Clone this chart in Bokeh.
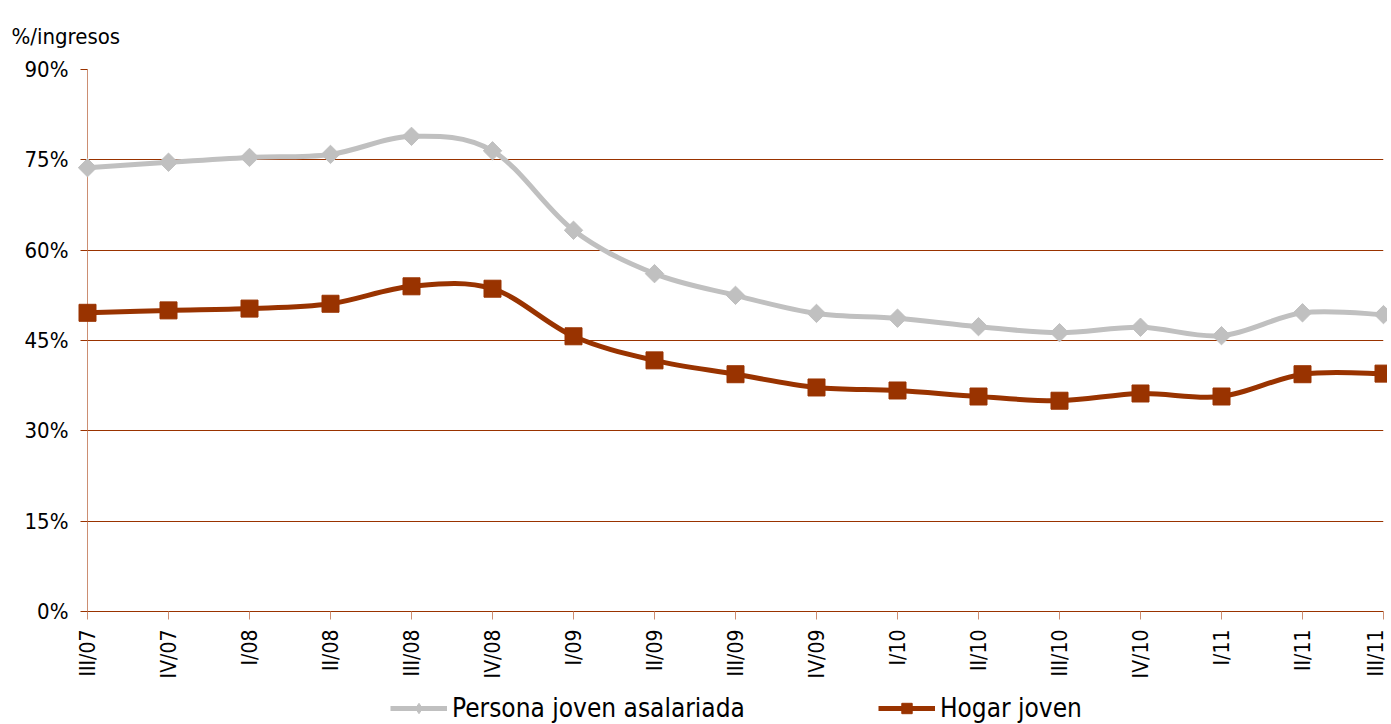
import numpy as np
from bokeh.plotting import figure
from bokeh.layouts import column
from bokeh.models import (Range1d, FixedTicker, Legend, LegendItem, ColumnDataSource)
from bokeh.embed import file_html
from bokeh.resources import INLINE

categories = ["III/07", "IV/07", "I/08", "II/08", "III/08", "IV/08", "I/09", "II/09",
              "III/09", "IV/09", "I/10", "II/10", "III/10", "IV/10", "I/11", "II/11", "III/11"]
persona = [73.7, 74.6, 75.4, 75.9, 78.9, 76.5, 63.3, 56.1, 52.5, 49.5, 48.7, 47.3, 46.3, 47.2, 45.8, 49.6, 49.3]
hogar = [49.6, 50.0, 50.3, 51.1, 54.0, 53.6, 45.7, 41.7, 39.4, 37.2, 36.7, 35.7, 35.0, 36.2, 35.7, 39.4, 39.5]
y_ticks = [0, 15, 30, 45, 60, 75, 90]
y_tick_labels = ["0%", "15%", "30%", "45%", "60%", "75%", "90%"]
series_names = ["Persona joven asalariada", "Hogar joven"]

FONT = "DejaVu Sans Condensed, Liberation Sans, sans-serif"
GRAY = "#C0C0C0"
BROWN = "#993300"
LIGHT = "#CC8E72"

xs = np.arange(len(categories), dtype=float)

def bezier_source(xv, yv):
    xv = np.asarray(xv, float); yv = np.asarray(yv, float)
    n = len(xv)
    d = dict(x0=[], y0=[], x1=[], y1=[], cx0=[], cy0=[], cx1=[], cy1=[])
    for i in range(n - 1):
        p0 = max(i - 1, 0); p3 = min(i + 2, n - 1)
        d["x0"].append(xv[i]); d["y0"].append(yv[i])
        d["x1"].append(xv[i + 1]); d["y1"].append(yv[i + 1])
        d["cx0"].append(xv[i] + (xv[i + 1] - xv[p0]) / 6)
        d["cy0"].append(yv[i] + (yv[i + 1] - yv[p0]) / 6)
        d["cx1"].append(xv[i + 1] - (xv[p3] - xv[i]) / 6)
        d["cy1"].append(yv[i + 1] - (yv[p3] - yv[i]) / 6)
    return ColumnDataSource(d)

p = figure(frame_width=1296, frame_height=542, output_backend="svg", toolbar_location=None,
           x_range=Range1d(0, len(categories) - 1), y_range=Range1d(0, 90),
           min_border_left=87, min_border_right=4, min_border_top=69, min_border_bottom=0)

p.title.text = "%/ingresos"
p.title.text_font = FONT
p.title.text_font_size = "22px"
p.title.text_font_style = "normal"
p.title.text_color = "black"
p.title.align = "left"
p.title.offset = -76
p.title.standoff = 41

p.background_fill_color = "white"
p.border_fill_color = "white"
p.outline_line_color = None

p.xgrid.grid_line_color = None
p.ygrid.ticker = FixedTicker(ticks=y_ticks)
p.ygrid.grid_line_color = BROWN
p.ygrid.grid_line_width = 1

p.yaxis.ticker = FixedTicker(ticks=y_ticks)
p.yaxis.major_label_overrides = {t: l for t, l in zip(y_ticks, y_tick_labels)}
p.yaxis.axis_line_color = LIGHT
p.yaxis.major_tick_line_color = BROWN
p.yaxis.major_tick_out = 7
p.yaxis.major_tick_in = 0
p.yaxis.minor_tick_line_color = None
p.yaxis.major_label_text_font = FONT
p.yaxis.major_label_text_font_size = "22px"
p.yaxis.major_label_text_color = "black"
p.yaxis.major_label_standoff = 12

p.xaxis.ticker = FixedTicker(ticks=list(xs))
ov = {float(i): c for i, c in enumerate(categories)}
ov.update({i: c for i, c in enumerate(categories)})
p.xaxis.major_label_overrides = ov
p.xaxis.major_label_orientation = np.pi / 2
p.xaxis.axis_line_color = BROWN
p.xaxis.major_tick_line_color = LIGHT
p.xaxis.major_tick_out = 8
p.xaxis.major_tick_in = 0
p.xaxis.minor_tick_line_color = None
p.xaxis.major_label_text_font = FONT
p.xaxis.major_label_text_font_size = "21px"
p.xaxis.major_label_text_color = "black"
p.xaxis.major_label_standoff = 10

src_p = bezier_source(xs, persona)
src_h = bezier_source(xs, hogar)
p.bezier(x0="x0", y0="y0", x1="x1", y1="y1", cx0="cx0", cy0="cy0", cx1="cx1", cy1="cy1",
         source=src_p, line_color=GRAY, line_width=5)
p.scatter(xs, persona, marker="square", angle=np.pi / 4, size=13,
          fill_color=GRAY, line_color=GRAY, level="overlay")
p.bezier(x0="x0", y0="y0", x1="x1", y1="y1", cx0="cx0", cy0="cy0", cx1="cx1", cy1="cy1",
         source=src_h, line_color=BROWN, line_width=5)
p.scatter(xs, hogar, marker="square", size=17, fill_color=BROWN, line_color=BROWN, level="overlay")

# legend strip below the chart (its renderers hold the series but lie outside its range)
q = figure(width=1387, height=42, output_backend="svg", toolbar_location=None,
           x_range=Range1d(0, 1), y_range=Range1d(-1, 0),
           min_border_left=0, min_border_right=0, min_border_top=0, min_border_bottom=0)
q.axis.visible = False
q.grid.visible = False
q.outline_line_color = None
q.background_fill_color = "white"
q.border_fill_color = "white"
glp = q.line(xs, persona, line_color=GRAY, line_width=5)
gmp = q.scatter(xs, persona, marker="diamond", size=18, fill_color=GRAY, line_color=GRAY)
glh = q.line(xs, hogar, line_color=BROWN, line_width=5)
gmh = q.scatter(xs, hogar, marker="square", size=15, fill_color=BROWN, line_color=BROWN)

legend = Legend(items=[LegendItem(label=series_names[0], renderers=[glp, gmp]),
                       LegendItem(label=series_names[1], renderers=[glh, gmh])],
                orientation="horizontal", location=(303, 0),
                label_text_font=FONT, label_text_font_size="26px", label_text_color="black",
                glyph_width=57, glyph_height=26, spacing=133,
                border_line_color=None, background_fill_alpha=0,
                padding=0, margin=0, label_standoff=5)
q.add_layout(legend)

layout = column(p, q, spacing=0)
open("out.html", "w").write(file_html(layout, INLINE))
